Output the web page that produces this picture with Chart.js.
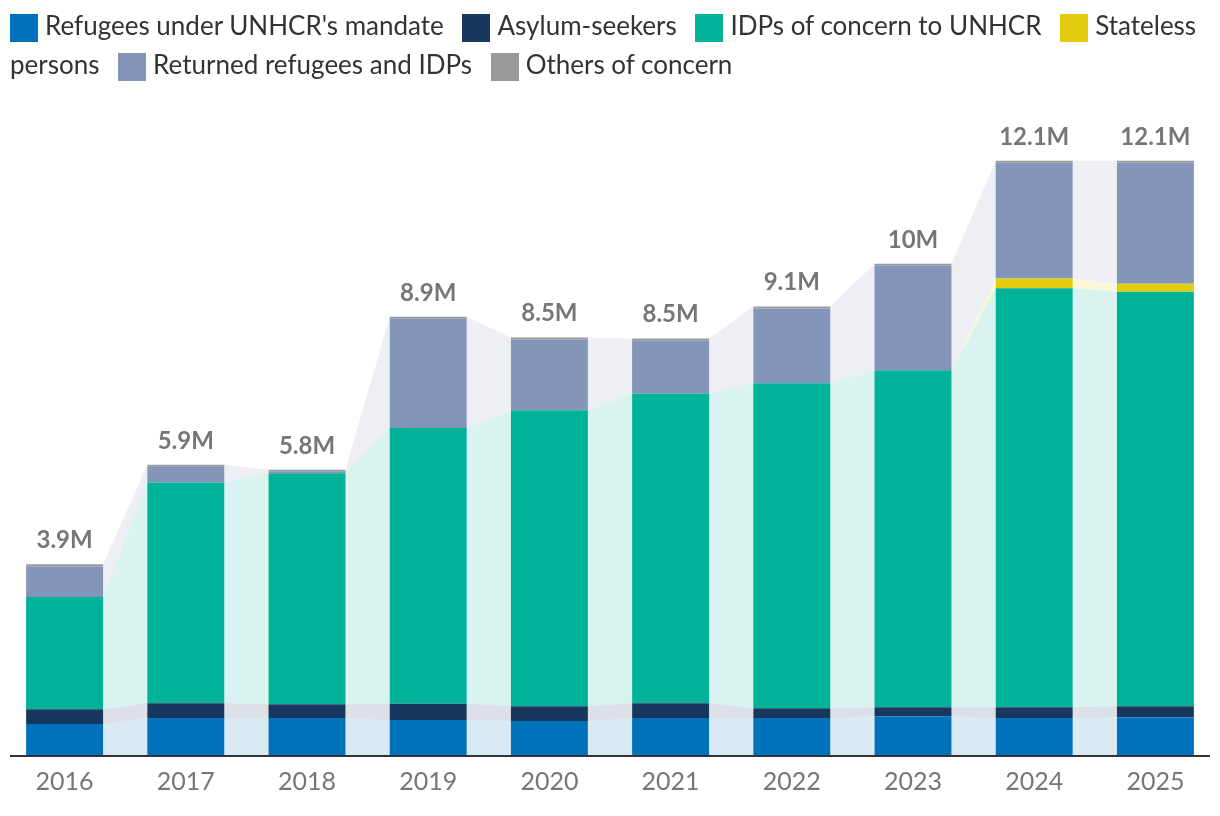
<!DOCTYPE html>
<html>
<head>
<meta charset="utf-8">
<script src="https://cdn.jsdelivr.net/npm/chart.js@4.4.1/dist/chart.umd.min.js"></script>
<style>
  html, body { margin: 0; padding: 0; background: #fff; }
  #wrap { position: relative; width: 1220px; height: 816px; overflow: hidden; }
  #grafico { position: absolute; left: 0; top: 0; }
  #leyenda {
    position: absolute; left: 10px; top: 6px; width: 1205px;
    font-family: Lato, "Open Sans", sans-serif; font-size: 26px; line-height: 39px;
    color: #333;
  }
  #leyenda .it { white-space: nowrap; }
  #leyenda .sw {
    display: inline-block; width: 28px; height: 28px;
    vertical-align: top; margin-top: 8px; margin-right: 7px; margin-left: 12px;
  }
  #leyenda .it:first-child .sw { margin-left: 0; }
</style>
</head>
<body>
<div id="wrap">
  <canvas id="grafico" width="1220" height="816"></canvas>
  <div id="leyenda"></div>
</div>
<script>
const years = ["2016", "2017", "2018", "2019", "2020", "2021", "2022", "2023", "2024", "2025"];

// millones de personas
const refugiados = [0.63, 0.75, 0.75, 0.71, 0.69, 0.75, 0.75, 0.79, 0.75, 0.77];
const solicitantes = [0.30, 0.30, 0.28, 0.33, 0.30, 0.30, 0.20, 0.18, 0.22, 0.22];
const desplazados = [2.28, 4.49, 4.70, 5.61, 6.02, 6.30, 6.61, 6.85, 8.52, 8.43];
const apatridas = [0, 0, 0, 0, 0, 0, 0, 0, 0.20, 0.16];
const retornados = [0.63, 0.33, 0.04, 2.22, 1.44, 1.08, 1.52, 2.13, 2.35, 2.46];
const otros = [0.04, 0.03, 0.03, 0.04, 0.04, 0.04, 0.04, 0.04, 0.04, 0.04];

const series = [
  { label: "Refugees under UNHCR's mandate", data: refugiados, color: "#0072BC" },
  { label: "Asylum-seekers", data: solicitantes, color: "#18375F" },
  { label: "IDPs of concern to UNHCR", data: desplazados, color: "#00B398" },
  { label: "Stateless persons", data: apatridas, color: "#E1CC0D" },
  { label: "Returned refugees and IDPs", data: retornados, color: "#8395B9" },
  { label: "Others of concern", data: otros, color: "#999999" }
];

const totales = years.map((y, i) => series.reduce((s, d) => s + d.data[i], 0));

function hexToRgba(hex, a) {
  const n = parseInt(hex.slice(1), 16);
  return `rgba(${(n >> 16) & 255}, ${(n >> 8) & 255}, ${n & 255}, ${a})`;
}

function formatoTotal(v) {
  let t = v.toFixed(1);
  if (t.endsWith(".0")) t = t.slice(0, -2);
  return t + "M";
}

// leyenda en html para que el texto se parta como en el original
const leyenda = document.getElementById("leyenda");
leyenda.innerHTML = series.map(s => {
  const palabras = s.label.split(" ");
  const primera = palabras.shift();
  const resto = palabras.length ? " " + palabras.join(" ") : "";
  return `<span class="it"><span class="sw" style="background:${s.color}"></span>${primera}</span>${resto}`;
}).join(" ");

// areas que unen los segmentos entre barras
const conectores = {
  id: "conectores",
  beforeDatasetsDraw(chart) {
    const ctx = chart.ctx;
    ctx.save();
    chart.data.datasets.forEach((ds, i) => {
      const meta = chart.getDatasetMeta(i);
      for (let j = 0; j < meta.data.length - 1; j++) {
        const a = meta.data[j].getProps(["x", "y", "base", "width"], true);
        const b = meta.data[j + 1].getProps(["x", "y", "base", "width"], true);
        ctx.beginPath();
        ctx.moveTo(a.x + a.width / 2, a.y);
        ctx.lineTo(b.x - b.width / 2, b.y);
        ctx.lineTo(b.x - b.width / 2, b.base);
        ctx.lineTo(a.x + a.width / 2, a.base);
        ctx.closePath();
        ctx.fillStyle = hexToRgba(series[i].color, 0.15);
        ctx.fill();
      }
    });
    ctx.restore();
  }
};

const etiquetasTotal = {
  id: "etiquetasTotal",
  afterDatasetsDraw(chart) {
    const ctx = chart.ctx;
    const meta = chart.getDatasetMeta(chart.data.datasets.length - 1);
    ctx.save();
    ctx.font = "bold 24px Lato, sans-serif";
    ctx.fillStyle = "#767676";
    ctx.textAlign = "center";
    ctx.textBaseline = "alphabetic";
    meta.data.forEach((el, j) => {
      const p = el.getProps(["x", "y"], true);
      ctx.fillText(formatoTotal(totales[j]), p.x, p.y - 16);
    });
    // linea del eje
    const area = chart.chartArea;
    ctx.strokeStyle = "#30343a";
    ctx.lineWidth = 2;
    ctx.beginPath();
    ctx.moveTo(area.left + 6, area.bottom + 1);
    ctx.lineTo(area.right - 6, area.bottom + 1);
    ctx.stroke();
    ctx.restore();
  }
};

const ctx = document.getElementById("grafico").getContext("2d");
new Chart(ctx, {
  type: "bar",
  data: {
    labels: years,
    datasets: series.map(s => ({
      label: s.label,
      data: s.data,
      backgroundColor: s.color,
      borderWidth: 0,
      categoryPercentage: 1,
      barPercentage: 0.635
    }))
  },
  options: {
    responsive: false,
    animation: false,
    devicePixelRatio: 1,
    layout: { padding: { top: 91, left: 4, right: 4, bottom: 7 } },
    plugins: {
      legend: { display: false },
      tooltip: { enabled: false }
    },
    scales: {
      x: {
        stacked: true,
        grid: { display: false, drawTicks: false },
        border: { display: false },
        ticks: {
          color: "#767676",
          padding: 12,
          font: { family: "Lato", size: 25 }
        }
      },
      y: {
        stacked: true,
        display: false,
        min: 0,
        max: 13.5
      }
    }
  },
  plugins: [conectores, etiquetasTotal]
});
</script>
</body>
</html>
